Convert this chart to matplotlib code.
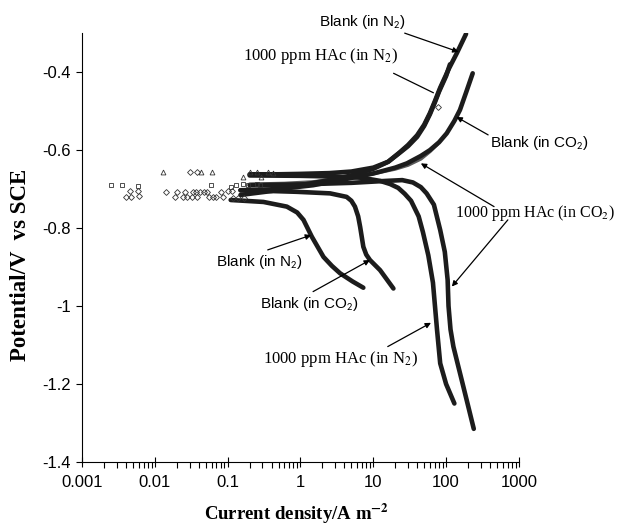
import matplotlib
matplotlib.use("Agg")
import matplotlib.pyplot as plt
from matplotlib.ticker import FixedLocator, LogLocator, NullFormatter

plt.rcParams["axes.unicode_minus"] = False

# ---- polarisation curves: current density (A m^-2) vs potential (V vs SCE)
# Blank (in N2)
BN2_CAT_I = [0.11, 0.31, 0.65, 0.9, 1.1, 1.43, 2.07, 2.7, 3.5, 5.2, 7.3]
BN2_CAT_E = [-0.728, -0.733, -0.745, -0.76, -0.779, -0.822, -0.874, -0.897,
             -0.916, -0.937, -0.953]
BN2_AN_I = [0.15, 0.4, 1.0, 2.5, 5, 10, 16, 23, 30, 40, 50, 60, 70, 83, 110, 140, 188]
BN2_AN_E = [-0.715, -0.705, -0.69, -0.677, -0.665, -0.648, -0.63, -0.606, -0.587,
            -0.562, -0.535, -0.505, -0.475, -0.44, -0.39, -0.352, -0.302]

# Blank (in CO2)
BCO2_CAT_I = [0.15, 0.4, 0.89, 2.55, 4.3, 5.0, 5.6, 6.2, 6.6, 7.3, 8.0, 9.0,
              12.4, 18.9]
BCO2_CAT_E = [-0.703, -0.705, -0.707, -0.711, -0.72, -0.73, -0.745, -0.77, -0.797,
              -0.848, -0.868, -0.882, -0.908, -0.955]
BCO2_AN_I = [0.15, 0.5, 1.5, 4, 10, 20, 29, 45, 60, 80, 102, 130, 155, 190, 232]
BCO2_AN_E = [-0.703, -0.70, -0.69, -0.675, -0.66, -0.645, -0.634, -0.615, -0.60,
             -0.58, -0.557, -0.525, -0.497, -0.45, -0.403]

# 1000 ppm HAc (in N2)
HN2_CAT_I = [0.2, 1, 3, 7, 12.4, 17, 22, 27, 33, 42, 48, 57, 66, 75, 83, 100, 130]
HN2_CAT_E = [-0.665, -0.666, -0.668, -0.671, -0.679, -0.687, -0.697, -0.712, -0.73,
             -0.77, -0.81, -0.87, -0.94, -1.06, -1.147, -1.2, -1.25]
HN2_AN_I = [0.2, 0.5, 1.0, 2.5, 5, 10, 16, 22, 30, 40, 50, 60, 70, 80, 100, 113]
HN2_AN_E = [-0.662, -0.662, -0.661, -0.659, -0.655, -0.645, -0.63, -0.61, -0.59,
            -0.566, -0.538, -0.508, -0.478, -0.45, -0.41, -0.38]

# 1000 ppm HAc (in CO2)
HCO2_CAT_I = [0.2, 1, 5, 15, 25, 35, 45, 54, 68, 83, 96, 105, 108, 115, 126, 145,
              164, 200, 240]
HCO2_CAT_E = [-0.69, -0.688, -0.684, -0.679, -0.677, -0.683, -0.695, -0.711, -0.74,
              -0.805, -0.861, -0.933, -1.0, -1.06, -1.104, -1.15, -1.19, -1.255,
              -1.315]
HCO2_AN_I = [0.2, 0.6, 1.5, 4, 10, 20, 30, 45, 60, 75]
HCO2_AN_E = [-0.688, -0.686, -0.682, -0.672, -0.66, -0.648, -0.638, -0.622,
             -0.603, -0.585]

# scattered points near the corrosion potential
TRI_I = [0.013, 0.043, 0.06, 0.16, 0.2, 0.25, 0.29, 0.36, 0.42]
TRI_E = [-0.656, -0.656, -0.656, -0.669, -0.656, -0.656, -0.669, -0.656, -0.658]
SQ_I = [0.0025, 0.0035, 0.0059, 0.059, 0.11, 0.13, 0.16, 0.19, 0.25, 0.28]
SQ_E = [-0.69, -0.69, -0.692, -0.69, -0.695, -0.69, -0.688, -0.69, -0.688, -0.69]
DIA_UP_I = [0.0046, 0.0059, 0.014, 0.02, 0.026, 0.033, 0.037, 0.042, 0.047,
            0.052, 0.08, 0.1, 0.116, 0.03, 0.038]
DIA_UP_E = [-0.705, -0.705, -0.707, -0.707, -0.707, -0.707, -0.707, -0.707,
            -0.707, -0.707, -0.707, -0.705, -0.705, -0.656, -0.656]
DIA_LO_I = [0.004, 0.0047, 0.006, 0.019, 0.024, 0.028, 0.032, 0.038, 0.055,
            0.063, 0.07, 0.085, 0.12, 0.14, 0.17, 78]
DIA_LO_E = [-0.72, -0.72, -0.718, -0.72, -0.72, -0.72, -0.72, -0.72, -0.72,
            -0.72, -0.72, -0.72, -0.722, -0.722, -0.722, -0.49]

XTICKS = [0.001, 0.01, 0.1, 1, 10, 100, 1000]
XTICK_LABELS = ["0.001", "0.01", "0.1", "1", "10", "100", "1000"]
YTICKS = [-1.4, -1.2, -1.0, -0.8, -0.6, -0.4]
YTICK_LABELS = ["-1.4", "-1.2", "-1", "-0.8", "-0.6", "-0.4"]

fig = plt.figure(figsize=(6.17, 5.26), dpi=100)
ax = fig.add_axes([0.133, 0.1217, 0.708, 0.8153])

INK = "#1c1c1c"
for xs, ys in [(BN2_CAT_I, BN2_CAT_E), (BN2_AN_I, BN2_AN_E),
               (BCO2_CAT_I, BCO2_CAT_E), (BCO2_AN_I, BCO2_AN_E),
               (HN2_CAT_I, HN2_CAT_E), (HN2_AN_I, HN2_AN_E),
               (HCO2_CAT_I, HCO2_CAT_E)]:
    ax.plot(xs, ys, color=INK, lw=3.3, solid_capstyle="round",
            solid_joinstyle="round", zorder=3)
ax.plot(HCO2_AN_I, HCO2_AN_E, color="#5a5a5a", lw=2.8, solid_capstyle="round",
        solid_joinstyle="round", zorder=2)

mk = dict(ls="none", mfc="none", mec="#333333", mew=0.6, ms=3.5, zorder=4)
ax.plot(TRI_I, TRI_E, marker="^", **mk)
ax.plot(SQ_I, SQ_E, marker="s", **mk)
ax.plot(DIA_UP_I, DIA_UP_E, marker="D", **dict(mk, ms=3.0))
ax.plot(DIA_LO_I, DIA_LO_E, marker="D", **dict(mk, ms=3.0))

ax.set_xscale("log")
ax.set_xlim(0.001, 1000)
ax.set_ylim(-1.4, -0.3)
ax.spines["top"].set_visible(False)
ax.spines["right"].set_visible(False)

ax.xaxis.set_major_locator(FixedLocator(XTICKS))
ax.set_xticklabels(XTICK_LABELS)
ax.xaxis.set_minor_locator(LogLocator(base=10, subs=range(2, 10), numticks=20))
ax.xaxis.set_minor_formatter(NullFormatter())
ax.set_yticks(YTICKS)
ax.set_yticklabels(YTICK_LABELS)
ax.tick_params(axis="x", which="major", direction="inout", length=7, width=0.8,
               labelsize=12, pad=6)
ax.tick_params(axis="x", which="minor", direction="out", length=4, width=0.8)
ax.tick_params(axis="y", direction="out", length=4, width=0.8, labelsize=12, pad=4)
for t in ax.get_xticklabels() + ax.get_yticklabels():
    t.set_family("Liberation Sans")

ax.set_xlabel("Current density/A m$^{\\mathbf{-2}}$", family="Liberation Serif",
              fontweight="bold", fontsize=13.5, math_fontfamily="stix")
ax.xaxis.set_label_coords(0.492, -0.093)
ax.set_ylabel("Potential/V  vs SCE", family="Liberation Serif",
              fontweight="bold", fontsize=16.5)
ax.yaxis.set_label_coords(-0.116, 0.459)

arrow = dict(arrowstyle="-|>", color="black", lw=0.9, mutation_scale=8,
             shrinkA=0, shrinkB=0)
line = dict(arrowstyle="-", color="black", lw=0.9, shrinkA=0, shrinkB=0)
sans = dict(family="Liberation Sans", fontsize=11, ha="center", va="center",
            math_fontfamily="stixsans")
serif = dict(family="Liberation Serif", fontsize=12, ha="center", va="center",
             math_fontfamily="stix")

ax.text(7.0, -0.272, "Blank (in N$_2$)", clip_on=False, **sans)
ax.annotate("", xy=(148, -0.348), xytext=(27, -0.30), arrowprops=arrow,
            annotation_clip=False)
ax.text(1.9, -0.359, "1000 ppm HAc (in N$_2$)", **serif)
ax.annotate("", xy=(67, -0.453), xytext=(19, -0.403), arrowprops=line)
ax.text(1900, -0.581, "Blank (in CO$_2$)", clip_on=False, **sans)
ax.annotate("", xy=(139, -0.515), xytext=(378, -0.561), arrowprops=arrow,
            annotation_clip=False)
ax.text(21000, -0.762, "1000 ppm HAc (in CO$_2$)", clip_on=False,
        **dict(serif, ha="right", fontsize=11.5))
ax.annotate("", xy=(45, -0.634), xytext=(456, -0.745), arrowprops=arrow,
            annotation_clip=False)
ax.annotate("", xy=(120, -0.95), xytext=(705, -0.779), arrowprops=arrow,
            annotation_clip=False)
ax.text(0.276, -0.888, "Blank (in N$_2$)", **sans)
ax.annotate("", xy=(1.4, -0.818), xytext=(0.355, -0.856), arrowprops=arrow)
ax.text(1.31, -0.995, "Blank (in CO$_2$)", **sans)
ax.annotate("", xy=(9.0, -0.882), xytext=(1.49, -0.963), arrowprops=arrow)
ax.text(3.55, -1.137, "1000 ppm HAc (in N$_2$)", **serif)
ax.annotate("", xy=(62, -1.043), xytext=(15.8, -1.104), arrowprops=arrow)

fig.savefig("out.png", dpi=100)
